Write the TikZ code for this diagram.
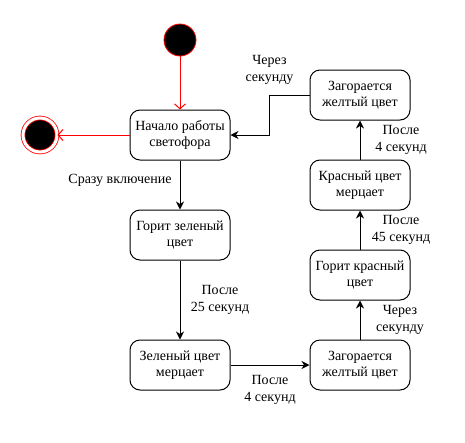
\documentclass[tikz,border=0pt]{standalone}
\usepackage{fontspec}
\setmainfont{Liberation Serif}
\usetikzlibrary{arrows.meta}

\begin{document}
\begin{tikzpicture}[x=1pt,y=-1pt,
        state/.style={draw, line width=1pt, rounded corners=10pt, minimum width=100pt, minimum height=50pt,
            align=center, inner sep=2pt, font=\fontsize{14}{16.5}\selectfont},
        lbl/.style={align=center, inner sep=0pt, font=\fontsize{14}{16.5}\selectfont},
        trans/.style={line width=1pt, -{Stealth[length=8pt,width=8pt,inset=2.5pt]}},
        redtrans/.style={red, line width=1pt, -{Straight Barb[length=5pt,width=11pt]}}]
    \useasboundingbox (0,0) rectangle (465,442);
    % start and end points
    \node[circle, draw=red, line width=0.8pt, fill=black, minimum size=32pt, inner sep=0pt] (init) at (180,40) {};
    \node[circle, draw=red, line width=0.8pt, double=white, double distance=3pt, fill=black,
        minimum size=34pt, inner sep=0pt] (final) at (40,135) {};
    % states
    \node[state] (start) at (180,135) {Начало работы\\светофора};
    \node[state] (green) at (180,235) {Горит зеленый\\цвет};
    \node[state] (greenblink) at (180,365) {Зеленый цвет\\мерцает};
    \node[state] (yellowlow) at (360,365) {Загорается\\желтый цвет};
    \node[state] (red) at (360,275) {Горит красный\\цвет};
    \node[state] (redblink) at (360,185) {Красный цвет\\мерцает};
    \node[state] (yellowtop) at (360,95) {Загорается\\желтый цвет};
    % transitions
    \draw[redtrans] (init) -- (start);
    \draw[redtrans] (start) -- (final);
    \draw[trans] (start) -- node[lbl, pos=0.4, left=8pt] (lon) {Сразу включение} (green);
    \draw[trans] (green) -- node[lbl, midway, xshift=40pt] (l25) {После\\25 секунд} (greenblink);
    \draw[trans] (greenblink) -- node[lbl, midway, yshift=-25pt] (l4a) {После\\4 секунд} (yellowlow);
    \draw[trans] (yellowlow) -- node[lbl, midway, xshift=40pt] (l1a) {Через\\секунду} (red);
    \draw[trans] (red) -- node[lbl, midway, xshift=41pt] (l45) {После\\45 секунд} (redblink);
    \draw[trans] (redblink) -- node[lbl, midway, xshift=41pt] (l4b) {После\\4 секунд} (yellowtop);
    \draw[trans] (yellowtop.west) -- ++(-40,0) node[lbl, above=10pt] (l1b) {Через\\секунду} |- (start.east);
\end{tikzpicture}
\end{document}
